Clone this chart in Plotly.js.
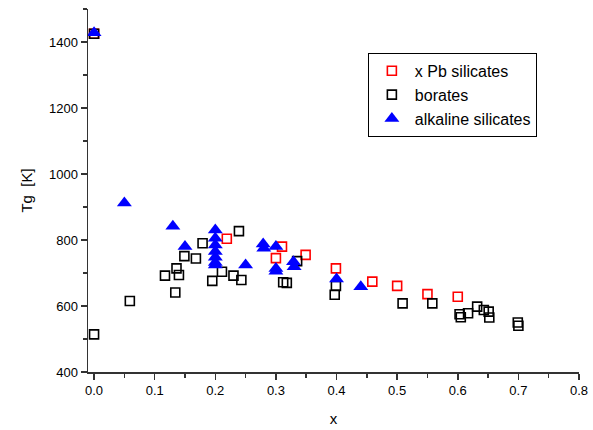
<!DOCTYPE html>
<html>
<head>
<meta charset="utf-8">
<script src="https://cdn.plot.ly/plotly-3.0.1.min.js"></script>
<style>html,body{margin:0;padding:0;background:#fff;}#chart{width:593px;height:430px;}</style>
</head>
<body>
<div id="chart"></div>
<script>
// x Pb silicates
const pbX = [0.0, 0.219, 0.30, 0.31, 0.349, 0.399, 0.459, 0.50, 0.55, 0.60];
const pbY = [1425, 804, 745, 780, 755, 714, 674, 661, 636, 628];
// borates
const borX = [0.0, 0.0, 0.059, 0.117, 0.134, 0.136, 0.14, 0.149, 0.168, 0.179, 0.195, 0.211, 0.23, 0.239, 0.243,
              0.312, 0.318, 0.335, 0.397, 0.399, 0.509, 0.558, 0.603, 0.605, 0.617, 0.632, 0.643, 0.651, 0.652, 0.699, 0.70];
const borY = [1425, 514, 615, 692, 641, 714, 694, 751, 744, 790, 676, 704, 692, 827, 679,
              672, 670, 736, 634, 661, 608, 608, 575, 566, 578, 598, 588, 583, 565, 550, 540];
// alkaline silicates
const alkX = [0.0, 0.05, 0.13, 0.15, 0.20, 0.20, 0.20, 0.20, 0.20, 0.20, 0.20, 0.25, 0.279, 0.28, 0.30, 0.30, 0.30, 0.329, 0.33, 0.40, 0.44];
const alkY = [1428, 912, 842, 780, 830, 805, 785, 765, 748, 732, 724, 724, 788, 775, 780, 714, 705, 734, 719, 682, 658];

const fontFam = 'Arial, "Liberation Sans", sans-serif';
const traces = [
  {x: pbX, y: pbY, type: 'scatter', mode: 'markers', name: 'x Pb silicates',
   marker: {symbol: 'square-open', size: 9, color: '#ff0000', line: {width: 1.6, color: '#ff0000'}}},
  {x: borX, y: borY, type: 'scatter', mode: 'markers', name: 'borates',
   marker: {symbol: 'square-open', size: 9, color: '#000000', line: {width: 1.6, color: '#000000'}}},
  {x: alkX, y: alkY, type: 'scatter', mode: 'markers', name: 'alkaline silicates',
   marker: {symbol: 'triangle-up', size: 13, color: '#0000ff', line: {width: 0}}}
];
const axisCommon = {
  showgrid: false, zeroline: false, showline: true, linecolor: '#333', linewidth: 1.5,
  ticks: 'outside', ticklen: 6, tickwidth: 1.5, tickcolor: '#333',
  tickfont: {family: fontFam, size: 13, color: '#000'}, mirror: false
};
const layout = {
  width: 593, height: 430,
  margin: {l: 88, r: 14, t: 9, b: 58},
  paper_bgcolor: '#fff', plot_bgcolor: '#fff',
  font: {family: fontFam, color: '#000'},
  xaxis: Object.assign({}, axisCommon, {
    range: [-0.01, 0.8], tickmode: 'linear', tick0: 0, dtick: 0.1, tickformat: '.1f',
    minor: {dtick: 0.05, tick0: 0, ticklen: 4, tickwidth: 1.5, tickcolor: '#333', ticks: 'outside'},
    title: {text: 'x', font: {family: fontFam, size: 15}, standoff: 16}
  }),
  yaxis: Object.assign({}, axisCommon, {
    range: [400, 1500], tickmode: 'linear', tick0: 400, dtick: 200,
    minor: {dtick: 100, tick0: 400, ticklen: 4, tickwidth: 1.5, tickcolor: '#333', ticks: 'outside'},
    title: {text: 'Tg\u00a0\u00a0[K]', font: {family: fontFam, size: 15}, standoff: 12}
  }),
  showlegend: true,
  legend: {x: 0.57, y: 0.879, xanchor: 'left', yanchor: 'top', bordercolor: '#000', borderwidth: 1,
           bgcolor: '#fff', itemwidth: 36, font: {family: fontFam, size: 16, color: '#000'}}
};
Plotly.newPlot('chart', traces, layout, {displayModeBar: false, staticPlot: true});
</script>
</body>
</html>
